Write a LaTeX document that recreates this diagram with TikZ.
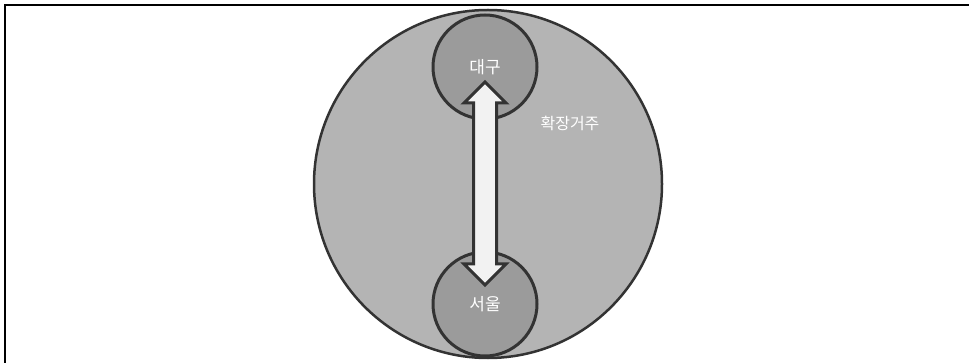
\documentclass[tikz,border=0pt]{standalone}
\usepackage{fontspec}
\newfontfamily\kr{Noto Sans CJK KR}
\usetikzlibrary{calc}

\definecolor{outer}{HTML}{B4B4B4}
\definecolor{inner}{HTML}{9B9B9B}
\definecolor{rim}{HTML}{333333}
\definecolor{shaft}{HTML}{F2F2F2}

\tikzset{
  zone/.style={shape=circle, draw=rim, fill=outer, line width=2.5pt, inner sep=0pt, minimum size=348pt},
  city/.style={shape=circle, draw=rim, fill=inner, line width=3pt, inner sep=0pt, minimum size=104pt,
    text=white, font=\kr\fontsize{17}{20}\selectfont},
  link/.style={draw=rim, fill=shaft, line width=3pt, line join=miter}
}

\begin{document}
\begin{tikzpicture}[x=1pt, y=-1pt]
\useasboundingbox (0,0) rectangle (969,363);
\draw[line width=2pt] (5,363) -- (5,5) -- (969,5);
\node[zone] (Z) at (488, 184) {};
\node[city] (D) at (485, 67) {대구};
\node[city] (S) at (485, 304) {서울};
\node[text=white, font=\kr\fontsize{16}{19}\selectfont] (L) at (570, 123) {확장거주};
\coordinate (tn) at ($(D)+(0,15)$);
\coordinate (ts) at ($(S)+(0,-19)$);
\draw[link] (tn) -- ++(21,21) -- ++(-9.5,0) -- ($(ts)+(11.5,-21)$) -- ++(9.5,0) -- (ts)
  -- ++(-21,-21) -- ++(9.5,0) -- ($(tn)+(-11.5,21)$) -- ++(-9.5,0) -- cycle;
\end{tikzpicture}
\end{document}
